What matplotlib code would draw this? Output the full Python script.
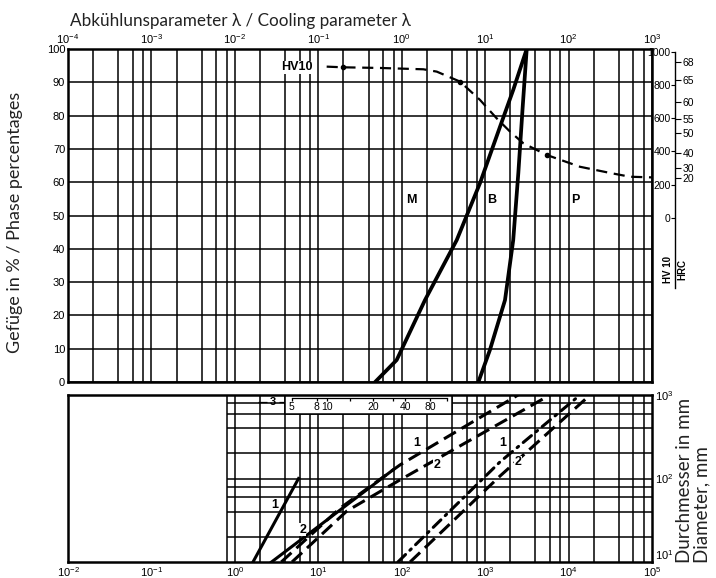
import matplotlib
matplotlib.use("Agg")
import matplotlib.pyplot as plt
from matplotlib.ticker import FixedLocator, NullFormatter, NullLocator
from matplotlib.patches import Rectangle
import matplotlib.transforms as mtransforms

plt.rcParams['font.family'] = ['Liberation Sans', 'DejaVu Sans']
plt.rcParams['mathtext.default'] = 'regular'

# ---- upper panel: phase percentages vs cooling parameter lambda
mb_lambda = [0.48, 0.87, 1.9, 4.56, 8.67, 15.1, 21.7, 31.5]     # M / B boundary
mb_pct = [0, 6.6, 24.6, 42.6, 59.7, 76.7, 87.7, 100]
bp_lambda = [8.3, 11.4, 17.3, 21.7, 25.0, 28.2, 31.5]            # B / P boundary
bp_pct = [0, 9.6, 24.6, 42.6, 62.8, 82.7, 100]

hv_lambda = [0.126, 0.196, 0.55, 1.82, 2.63, 5.0, 8.67, 13.7, 19.9, 28.7,
             54.7, 137, 313, 544, 895, 1000]
hv_value = [910, 906, 902, 894, 880, 820, 710, 600, 519, 449,
            379, 308, 271, 248, 245, 244]
hv_marks = [1, 5, 10]

phase_names = ['M', 'B', 'P']
phase_lambda = [1.29, 12.1, 119]
phase_pct = [54.7, 54.7, 54.7]

top_decades = [1e-4, 1e-3, 1e-2, 1e-1, 1e0, 1e1, 1e2, 1e3]
hv_ticks = [0, 200, 400, 600, 800, 1000]
hrc_labels = ['68', '65', '60', '55', '50', '40', '30', '20']
hrc_hv = [940, 832, 697, 595, 513, 392, 302, 238]

# ---- lower panel: diameter vs cooling parameter
bottom_decades = [1e-2, 1e-1, 1e0, 1e1, 1e2, 1e3, 1e4, 1e5]
diam_decades = [10, 100, 1000]
solid1_lam = [1.65, 5.8]
solid1_d = [10, 100]
solid2_lam = [2.75, 78]
solid2_d = [10, 126]
dash1_lam = [3.6, 18.2, 95, 2480]
dash1_d = [10, 44, 145, 1000]
dash2_lam = [4.84, 22, 95, 5980]
dash2_d = [10, 40.8, 96, 1000]
dot1_lam = [90, 1507, 13700]
dot1_d = [10, 158, 1000]
dot2_lam = [126, 1507, 18100]
dot2_d = [10, 107, 1000]

curve_labels = ['1', '2', '1', '2', '1', '2']
label_lam = [3.03, 6.5, 151, 263, 1640, 2480]
label_d = [48, 24.4, 266, 146, 266, 158]

scale3_vals = ['5', '8', '10', '20', '40', '80']
scale3_pos = [4.8, 9.6, 12.6, 45, 110, 218]

fig = plt.figure(figsize=(7.16, 5.78), dpi=100)
ax = fig.add_axes([68 / 716, 1 - 382 / 578, 584 / 716, 333 / 578])
axd = fig.add_axes([68 / 716, 1 - 562 / 578, 584 / 716, 167 / 578])

# upper panel
ax.set_xscale('log')
ax.set_xlim(1e-4, 1e3)
ax.set_ylim(0, 100)
ax.xaxis.set_major_locator(FixedLocator(top_decades))
top_minor = [m * d for d in top_decades[:-1] for m in (2, 4, 6, 8)]
ax.xaxis.set_minor_locator(FixedLocator(top_minor))
ax.xaxis.set_minor_formatter(NullFormatter())
ax.xaxis.tick_top()
ax.set_yticks(range(0, 101, 10))
ax.tick_params(which='both', length=0, labelsize=8, pad=2)
ax.grid(which='both', color='black', lw=1.1)
for s in ax.spines.values():
    s.set_linewidth(1.8)

ax.plot(mb_lambda, mb_pct, color='black', lw=2.7, solid_capstyle='round')
ax.plot(bp_lambda, bp_pct, color='black', lw=2.7, solid_capstyle='round')
for name, lx, py in zip(phase_names, phase_lambda, phase_pct):
    ax.text(lx, py, name, ha='center', va='center', fontsize=9, fontweight='bold')

# hardness scales on the right
hv_lo, hv_hi = -986, 1016
axh = ax.twinx()
axh.set_ylim(hv_lo, hv_hi)
for k in ('left', 'top', 'bottom'):
    axh.spines[k].set_visible(False)
axh.spines['right'].set_position(('outward', 16.5))
axh.spines['right'].set_bounds(-420, 1000)
axh.spines['right'].set_linewidth(1.0)
axh.set_yticks(hv_ticks)
axh.tick_params(axis='y', direction='in', length=3, pad=-3, labelsize=7.5)
for t in axh.get_yticklabels():
    t.set_horizontalalignment('right')

axr = ax.twinx()
axr.set_ylim(hv_lo, hv_hi)
for s in axr.spines.values():
    s.set_visible(False)
axr.spines['right'].set_position(('outward', 16.5))
axr.set_yticks(hrc_hv)
axr.set_yticklabels(hrc_labels)
axr.tick_params(axis='y', direction='out', length=4, pad=1.5, labelsize=7.5)

axh.plot(hv_lambda, hv_value, color='black', lw=1.6, ls=(0, (5, 3)))
axh.plot([hv_lambda[i] for i in hv_marks], [hv_value[i] for i in hv_marks],
         ls='none', marker='o', ms=3, color='black')
axh.text(0.086, 905, 'HV10', ha='right', va='center', fontsize=9, fontweight='bold',
         bbox=dict(facecolor='white', edgecolor='none', pad=0.5))

spine_x = 1 + 23 / 584
trans = mtransforms.blended_transform_factory(axh.transAxes, axh.transData)
axh.text(spine_x - 0.004, -307, 'HV 10', rotation=90, ha='right', va='center',
         fontsize=7, fontweight='bold', transform=trans)
axh.text(spine_x + 0.004, -307, 'HRC', rotation=90, ha='left', va='center',
         fontsize=7, fontweight='bold', transform=trans)

# lower panel
axd.set_xscale('log')
axd.set_yscale('log')
axd.set_xlim(1e-2, 1e5)
axd.set_ylim(10, 1000)
axd.xaxis.set_major_locator(FixedLocator(bottom_decades))
axd.xaxis.set_minor_locator(NullLocator())
axd.yaxis.set_major_locator(FixedLocator(diam_decades))
axd.yaxis.set_minor_locator(NullLocator())
axd.yaxis.tick_right()
axd.tick_params(which='both', length=0, labelsize=8, pad=2)
axd.get_yticklabels()[0].set_verticalalignment('bottom')
for s in axd.spines.values():
    s.set_linewidth(1.8)

lam_grid = [m * d for d in bottom_decades[1:-1] for m in (1, 2, 4, 6, 8) if m * d >= 0.8]
d_grid = [20, 40, 60, 80, 100, 200, 400, 600, 800]
axd.vlines(lam_grid, 10, 1000, colors='black', lw=1.1, zorder=1)
axd.hlines(d_grid, 0.8, 1e5, colors='black', lw=1.1, zorder=1)

axd.add_patch(Rectangle((4, 600), 396, 400, facecolor='white', edgecolor='black',
                        lw=1.1, zorder=1.5))
axd.plot([scale3_pos[0], 348], [920, 920], color='black', lw=0.9, zorder=2)
axd.vlines(scale3_pos + [24, 79, 348], 840, 920, colors='black', lw=0.9, zorder=2)
for v, p in zip(scale3_vals, scale3_pos):
    axd.text(p, 715, v, ha='center', va='center', fontsize=7.5, zorder=3)
axd.text(2.86, 830, '3', ha='center', va='center', fontsize=8, fontweight='bold', zorder=3)
axd.hlines([830, 830], [1.9, 3.35], [2.45, 3.9], colors='black', lw=0.9, zorder=2)

axd.plot(solid1_lam, solid1_d, color='black', lw=2.2, zorder=3)
axd.plot(solid2_lam, solid2_d, color='black', lw=2.2, zorder=3)
axd.plot(dash1_lam, dash1_d, color='black', lw=2.2, ls=(0, (4.5, 2.2)), zorder=3)
axd.plot(dash2_lam, dash2_d, color='black', lw=2.2, ls=(0, (4.5, 2.2)), zorder=3)
axd.plot(dot1_lam, dot1_d, color='black', lw=2.2, ls=(0, (3.5, 2, 0.6, 2)),
         dash_capstyle='round', zorder=3)
axd.plot(dot2_lam, dot2_d, color='black', lw=2.2, ls=(0, (4.5, 2.2)), zorder=3)
for t, lx, dy in zip(curve_labels, label_lam, label_d):
    axd.text(lx, dy, t, ha='center', va='center', fontsize=9, fontweight='bold', zorder=4,
             bbox=dict(facecolor='white', edgecolor='none', pad=0.3))

# titles
tcol = '#222222'
fig.text(70 / 716, 1 - 26 / 578, 'Abkühlunsparameter λ / Cooling parameter λ',
         ha='left', va='baseline', fontsize=12.3, color=tcol, family=['Lato', 'DejaVu Sans'])
fig.text(15 / 716, 1 - 222 / 578, 'Gefüge in % / Phase percentages', rotation=90,
         ha='center', va='center', fontsize=13, color=tcol, family=['Lato', 'DejaVu Sans'])
fig.text(693 / 716, 1 - 563 / 578, 'Durchmesser in mm\nDiameter, mm', rotation=90,
         ha='center', va='bottom', multialignment='left', fontsize=13.5, color=tcol,
         linespacing=1.0, family=['Lato', 'DejaVu Sans'])

fig.savefig('out.png', dpi=100)
